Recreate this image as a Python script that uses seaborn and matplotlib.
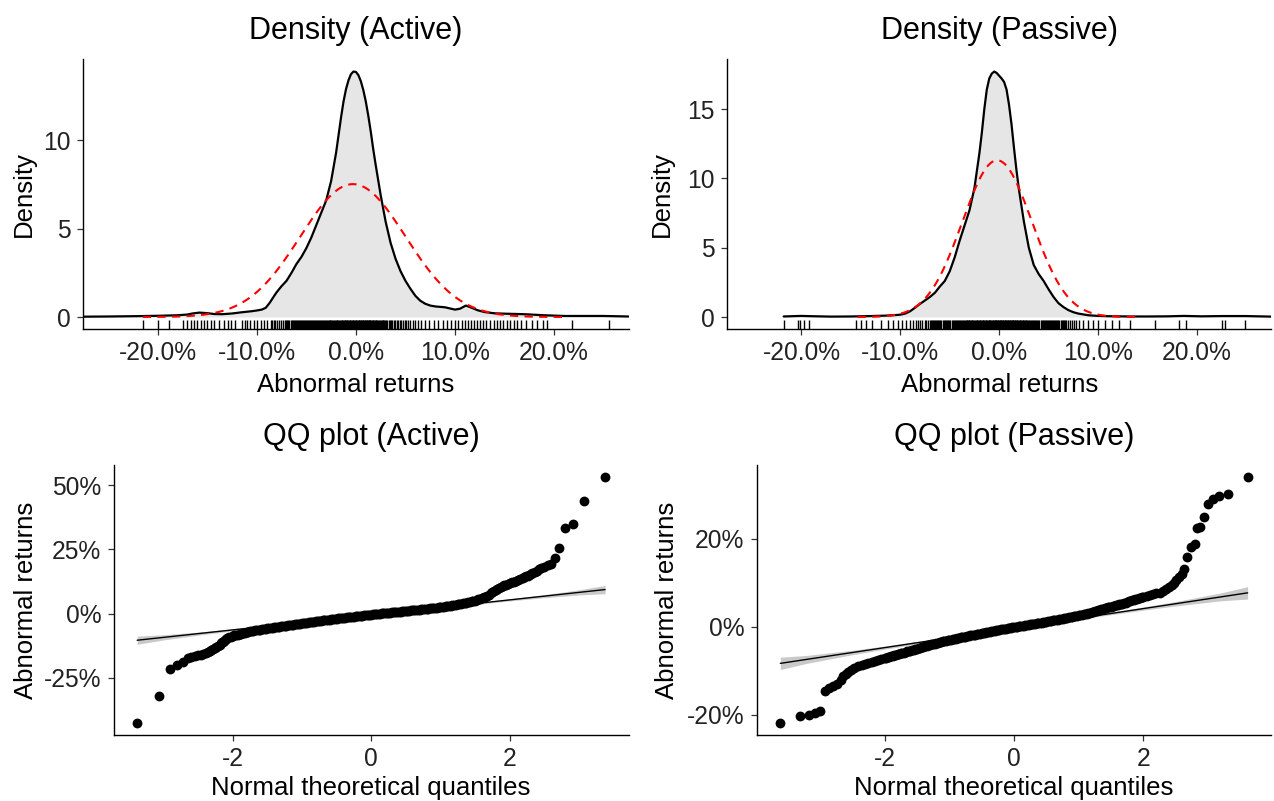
import numpy as np
import pandas as pd
import matplotlib
matplotlib.use("Agg")
import matplotlib.pyplot as plt
import seaborn as sns
from matplotlib.ticker import FuncFormatter

# DATA (returns in %)

# kernel density curves
dens_active_x = [-27.5, -25, -22, -20, -18, -17, -16.5, -15.8, -15, -14.3, -13.5, -12.5, -11.5, -10.5,
                 -10, -9.5, -9.1, -8.7, -8.3, -8, -7.5, -7, -6.5, -6, -5.5, -5, -4.5, -4, -3.5, -3,
                 -2.5, -2, -1.75, -1.5, -1.25, -1, -0.75, -0.5, -0.25, 0, 0.25, 0.5, 0.75, 1, 1.25,
                 1.5, 1.75, 2, 2.5, 3, 3.5, 4, 4.5, 5, 5.5, 6, 6.5, 7, 7.5, 8, 9, 10, 10.5, 11.1,
                 11.7, 12.3, 13, 14, 15, 17, 19, 21, 23, 25, 27.5]
dens_active_y = [0.02, 0.03, 0.05, 0.07, 0.1, 0.14, 0.2, 0.25, 0.22, 0.17, 0.16, 0.2, 0.27, 0.33,
                 0.37, 0.42, 0.52, 0.8, 1.15, 1.4, 1.75, 2.05, 2.5, 3.0, 3.4, 3.9, 4.5, 5.2, 5.9, 6.6,
                 7.7, 9.3, 10.3, 11.3, 12.2, 12.9, 13.4, 13.75, 13.9, 13.88, 13.7, 13.35, 12.85, 12.2, 11.4,
                 10.5, 9.5, 8.6, 6.9, 5.4, 4.2, 3.3, 2.6, 2.05, 1.6, 1.2, 0.92, 0.75, 0.65, 0.6, 0.55, 0.42, 0.47, 0.65,
                 0.52, 0.38, 0.28, 0.21, 0.19, 0.16, 0.1, 0.06, 0.06, 0.06, 0.03]

dens_passive_x = [-21.8, -20.5, -20, -19, -17, -15, -13, -11.5, -10.5, -10, -9.5, -9, -8.5, -8, -7.5,
                  -7, -6.5, -6, -5.5, -5, -4.5, -4, -3.5, -3, -2.5, -2, -1.75, -1.5, -1.25, -1, -0.75,
                  -0.5, -0.25, 0, 0.25, 0.5, 0.75, 1, 1.25, 1.5, 1.75, 2, 2.5, 3, 3.5, 4, 4.5, 5, 5.5,
                  6, 6.5, 7, 7.5, 8, 9, 10, 11, 12, 13.5, 15, 17, 18.7, 20.5, 22.5, 24.9, 27.5]
dens_passive_y = [0.04, 0.07, 0.08, 0.06, 0.03, 0.04, 0.07, 0.1, 0.14, 0.17, 0.25, 0.42, 0.68, 0.95, 1.2,
                  1.45, 1.75, 2.2, 2.6, 3.3, 4.3, 5.5, 6.6, 7.7, 9.3, 11.8, 13.3, 15.0, 16.4, 17.2, 17.55,
                  17.7, 17.6, 17.4, 17.2, 16.95, 16.4, 15.3, 13.9, 12.2, 10.6, 9.2, 6.9, 5.0, 3.75, 3.1, 2.6, 2.0, 1.45,
                  1.0, 0.72, 0.5, 0.35, 0.25, 0.13, 0.08, 0.06, 0.05, 0.04, 0.04, 0.05, 0.08, 0.05, 0.07, 0.07, 0.03]

# fitted normal (mean, sd) for the dashed curves
norm_active = (-0.3, 5.3)
norm_passive = (-0.2, 3.53)

# theoretical quantiles used for the body of both QQ plots
qq_body_theo = [-2.000, -1.975, -1.950, -1.925, -1.900, -1.875, -1.850, -1.825, -1.800, -1.775,
                -1.750, -1.725, -1.700, -1.675, -1.650, -1.625, -1.600, -1.575, -1.550, -1.525,
                -1.500, -1.475, -1.450, -1.425, -1.400, -1.375, -1.350, -1.325, -1.300, -1.275,
                -1.250, -1.225, -1.200, -1.175, -1.150, -1.125, -1.100, -1.075, -1.050, -1.025,
                -1.000, -0.975, -0.950, -0.925, -0.900, -0.875, -0.850, -0.825, -0.800, -0.775,
                -0.750, -0.725, -0.700, -0.675, -0.650, -0.625, -0.600, -0.575, -0.550, -0.525,
                -0.500, -0.475, -0.450, -0.425, -0.400, -0.375, -0.350, -0.325, -0.300, -0.275,
                -0.250, -0.225, -0.200, -0.175, -0.150, -0.125, -0.100, -0.075, -0.050, -0.025,
                0.000, 0.025, 0.050, 0.075, 0.100, 0.125, 0.150, 0.175, 0.200, 0.225,
                0.250, 0.275, 0.300, 0.325, 0.350, 0.375, 0.400, 0.425, 0.450, 0.475,
                0.500, 0.525, 0.550, 0.575, 0.600, 0.625, 0.650, 0.675, 0.700, 0.725,
                0.750, 0.775, 0.800, 0.825, 0.850, 0.875, 0.900, 0.925, 0.950, 0.975,
                1.000, 1.025, 1.050, 1.075, 1.100, 1.125, 1.150, 1.175, 1.200, 1.225,
                1.250, 1.275, 1.300, 1.325, 1.350, 1.375, 1.400, 1.425, 1.450, 1.475,
                1.500, 1.525, 1.550, 1.575, 1.600, 1.625, 1.650, 1.675, 1.700, 1.725,
                1.750, 1.775, 1.800, 1.825, 1.850, 1.875, 1.900, 1.925, 1.950, 1.975, 2.000]

# Active QQ: lower tail, body, upper tail
qq_active_low_theo = [-3.38, -3.07, -2.91, -2.80, -2.72, -2.65, -2.60, -2.55, -2.50, -2.46, -2.43, -2.39,
                      -2.36, -2.33, -2.31, -2.28, -2.26, -2.24, -2.21, -2.19, -2.17, -2.15, -2.14, -2.12,
                      -2.11, -2.09, -2.08, -2.06, -2.03]
qq_active_low_ret = [-42.5, -32.0, -21.5, -20.0, -18.9, -17.4, -17.0, -16.6, -16.3, -16.0, -15.6, -15.3,
                     -15.0, -14.6, -14.3, -13.8, -13.3, -12.9, -12.6, -12.2, -11.5, -11.2, -11.0, -10.7,
                     -10.3, -10.0, -9.6, -9.3, -9.0]
qq_active_body_ret = [-8.6, -8.45, -8.3, -8.15, -8.0, -7.8, -7.6, -7.4, -7.2, -7.07,
                      -6.95, -6.82, -6.7, -6.57, -6.45, -6.32, -6.2, -6.1, -6.0, -5.9,
                      -5.8, -5.7, -5.6, -5.5, -5.4, -5.3, -5.2, -5.1, -5.0, -4.9,
                      -4.8, -4.7, -4.6, -4.5, -4.4, -4.3, -4.2, -4.1, -4.0, -3.9,
                      -3.8, -3.7, -3.6, -3.5, -3.4, -3.3, -3.2, -3.1, -3.0, -2.9,
                      -2.8, -2.72, -2.65, -2.57, -2.5, -2.4, -2.3, -2.2, -2.1, -2.02,
                      -1.95, -1.87, -1.8, -1.7, -1.6, -1.52, -1.45, -1.37, -1.3, -1.22,
                      -1.15, -1.07, -1.0, -0.92, -0.85, -0.77, -0.7, -0.62, -0.55, -0.47,
                      -0.4, -0.32, -0.25, -0.17, -0.1, -0.02, 0.05, 0.12, 0.2, 0.27,
                      0.35, 0.42, 0.5, 0.55, 0.6, 0.68, 0.75, 0.82, 0.9, 0.95,
                      1.0, 1.07, 1.15, 1.22, 1.3, 1.35, 1.4, 1.47, 1.55, 1.62,
                      1.7, 1.77, 1.85, 1.92, 2.0, 2.07, 2.15, 2.22, 2.3, 2.4,
                      2.5, 2.6, 2.7, 2.77, 2.85, 2.95, 3.05, 3.17, 3.3, 3.42,
                      3.55, 3.67, 3.8, 3.95, 4.1, 4.25, 4.4, 4.57, 4.75, 4.92,
                      5.1, 5.3, 5.5, 5.75, 6.0, 6.3, 6.6, 7.0, 7.4, 7.85,
                      8.3, 8.75, 9.2, 9.6, 10.0, 10.35, 10.7, 11.0, 11.3, 11.6, 11.9]
qq_active_high_theo = [2.03, 2.06, 2.09, 2.12, 2.15, 2.19, 2.21, 2.24, 2.26, 2.28, 2.31, 2.33, 2.36, 2.39,
                       2.43, 2.46, 2.50, 2.55, 2.60, 2.65, 2.72, 2.80, 2.91, 3.07, 3.38]
qq_active_high_ret = [12.2, 12.5, 12.8, 13.1, 13.5, 13.9, 14.2, 14.5, 14.8, 15.2, 15.5, 15.9, 16.3, 16.7,
                      17.2, 17.8, 18.3, 18.9, 19.3, 21.8, 25.5, 33.3, 35.0, 44.0, 53.1]

# Passive QQ: lower tail, body, upper tail
qq_passive_low_theo = [-3.61, -3.31, -3.17, -3.07, -2.99, -2.92, -2.86, -2.80, -2.74, -2.68, -2.64, -2.60,
                       -2.56, -2.52, -2.47, -2.41, -2.35, -2.30, -2.25, -2.20, -2.15, -2.10, -2.05]
qq_passive_low_ret = [-21.8, -20.3, -20.1, -19.7, -19.2, -14.5, -14.0, -13.5, -12.9, -12.0, -11.2, -10.7,
                      -10.2, -9.8, -9.4, -9.0, -8.7, -8.45, -8.2, -8.0, -7.8, -7.55, -7.35]
qq_passive_body_ret = [-7.15, -7.02, -6.9, -6.8, -6.7, -6.57, -6.45, -6.35, -6.25, -6.15,
                       -6.05, -5.95, -5.85, -5.72, -5.6, -5.5, -5.4, -5.3, -5.2, -5.07,
                       -4.95, -4.82, -4.7, -4.6, -4.5, -4.4, -4.3, -4.2, -4.1, -4.0,
                       -3.9, -3.8, -3.7, -3.6, -3.5, -3.4, -3.3, -3.22, -3.15, -3.07,
                       -3.0, -2.92, -2.85, -2.77, -2.7, -2.6, -2.5, -2.42, -2.35, -2.27,
                       -2.2, -2.12, -2.05, -1.97, -1.9, -1.82, -1.75, -1.67, -1.6, -1.52,
                       -1.45, -1.37, -1.3, -1.22, -1.15, -1.07, -1.0, -0.95, -0.9, -0.82,
                       -0.75, -0.67, -0.6, -0.52, -0.45, -0.4, -0.35, -0.27, -0.2, -0.15,
                       -0.1, -0.02, 0.05, 0.1, 0.15, 0.22, 0.3, 0.35, 0.4, 0.47,
                       0.55, 0.6, 0.65, 0.72, 0.8, 0.85, 0.9, 0.97, 1.05, 1.12,
                       1.2, 1.25, 1.3, 1.37, 1.45, 1.52, 1.6, 1.65, 1.7, 1.77,
                       1.85, 1.92, 2.0, 2.07, 2.15, 2.22, 2.3, 2.37, 2.45, 2.52,
                       2.6, 2.67, 2.75, 2.82, 2.9, 3.0, 3.1, 3.2, 3.3, 3.4,
                       3.5, 3.62, 3.75, 3.85, 3.95, 4.07, 4.2, 4.3, 4.4, 4.5,
                       4.6, 4.7, 4.8, 4.9, 5.0, 5.1, 5.2, 5.3, 5.4, 5.52,
                       5.65, 5.77, 5.9, 6.0, 6.1, 6.22, 6.35, 6.47, 6.6, 6.7, 6.8]
qq_passive_high_theo = [2.05, 2.10, 2.15, 2.20, 2.25, 2.30, 2.35, 2.40, 2.44, 2.47, 2.51, 2.55, 2.59, 2.62,
                        2.67, 2.73, 2.79, 2.83, 2.88, 2.93, 2.99, 3.07, 3.17, 3.31, 3.61]
qq_passive_high_ret = [7.0, 7.2, 7.4, 7.6, 7.8, 8.1, 8.5, 9.0, 9.5, 10.0, 10.7, 11.4, 12.1, 13.2,
                       15.8, 18.2, 18.9, 22.5, 22.8, 24.9, 27.9, 29.1, 29.8, 30.2, 34.0]

# reference lines (intercept, slope) and confidence band half-widths
qq_line_active = (-0.5, 2.92)
qq_line_passive = (-0.29, 2.22)
band_active_x = [-3.38, -3.0, -2.5, -2.0, -1.0, 0.0, 1.0, 2.0, 2.5, 3.0, 3.38]
band_active_half = [1.6, 1.0, 0.6, 0.4, 0.25, 0.2, 0.25, 0.4, 0.6, 1.0, 1.6]
band_passive_x = [-3.61, -3.2, -2.5, -2.0, -1.0, 0.0, 1.0, 2.0, 2.5, 3.2, 3.61]
band_passive_half = [1.4, 0.9, 0.5, 0.35, 0.2, 0.15, 0.2, 0.35, 0.5, 0.9, 1.4]

qq_active = pd.DataFrame({
    "theo": qq_active_low_theo + qq_body_theo + qq_active_high_theo,
    "ret": qq_active_low_ret + qq_active_body_ret + qq_active_high_ret,
})
qq_passive = pd.DataFrame({
    "theo": qq_passive_low_theo + qq_body_theo + qq_passive_high_theo,
    "ret": qq_passive_low_ret + qq_passive_body_ret + qq_passive_high_ret,
})

sns.set_theme(style="ticks")
plt.rcParams['font.family'] = ['Liberation Sans', 'DejaVu Sans']

TITLE_FS = 22
LABEL_FS = 18.5
TICK_FS = 17.7
TICK_COLOR = '#222222'

W, H = 1274, 801
fig = plt.figure(figsize=(W / 100, H / 100), dpi=100)


def make_ax(left, top, right, bottom):
    return fig.add_axes([left / W, 1 - bottom / H, (right - left) / W, (bottom - top) / H])


def style_ax(ax, title, xlabel, ylabel, ylab_x, xlab_y):
    sns.despine(ax=ax)
    for s in ['left', 'bottom']:
        ax.spines[s].set_linewidth(1.0)
        ax.spines[s].set_color('black')
    ax.tick_params(axis='both', length=4, width=0.9, color='#333333',
                   labelsize=TICK_FS, labelcolor=TICK_COLOR)
    ax.tick_params(axis='x', pad=4.5)
    ax.tick_params(axis='y', pad=5)
    ax.set_title(title, fontsize=TITLE_FS, pad=14.4, color='black')
    ax.set_xlabel(xlabel, fontsize=LABEL_FS, color='black')
    ax.set_ylabel(ylabel, fontsize=LABEL_FS, color='black')
    ax.xaxis.set_label_coords(0.5, xlab_y)
    ax.yaxis.set_label_coords(ylab_x, 0.5)
    ax.grid(False)


def expand(vals):
    lo, hi = min(vals), max(vals)
    r = hi - lo
    return lo - 0.05 * r, hi + 0.05 * r


def density_panel(ax, dx, dy, sample, norm, title, yticks, ylab_x):
    ax.fill_between(dx, 0, dy, color='#E6E6E6', lw=0, zorder=1)
    sns.lineplot(x=dx, y=dy, ax=ax, color='black', lw=1.6, estimator=None, sort=False, zorder=3)
    m, s = norm
    xs = np.linspace(m - 4 * s, m + 4 * s, 300)
    ys = np.exp(-0.5 * ((xs - m) / s) ** 2) / (s / 100 * np.sqrt(2 * np.pi))
    sns.lineplot(x=xs, y=ys, ax=ax, color='red', lw=1.5, linestyle=(0, (4, 3)),
                 estimator=None, sort=False, zorder=4)
    sns.rugplot(x=sample, ax=ax, height=0.033, color='black', lw=1.3, expand_margins=False, zorder=2)
    ax.set_xlim(-27.5, 27.5)
    top = max(dy)
    ax.set_ylim(-0.05 * top, 1.05 * top)
    ax.set_xticks([-20, -10, 0, 10, 20])
    ax.xaxis.set_major_formatter(FuncFormatter(lambda v, _: f"{v:.1f}%"))
    ax.set_yticks(yticks)
    ax.yaxis.set_major_formatter(FuncFormatter(lambda v, _: f"{v:g}"))
    style_ax(ax, title, "Abnormal returns", "Density", ylab_x, -0.16)


def qq_panel(ax, df, line, bx, bh, title, yticks, ylab_x):
    a, b = line
    bx = np.array(bx)
    centre = a + b * bx
    ax.fill_between(bx, centre - np.array(bh), centre + np.array(bh), color='#C9C9C9', lw=0, zorder=1)
    lx = np.array([df.theo.min(), df.theo.max()])
    sns.lineplot(x=lx, y=a + b * lx, ax=ax, color='black', lw=1.0, estimator=None, zorder=2)
    sns.scatterplot(data=df, x="theo", y="ret", ax=ax, color='black', s=50, linewidth=0, zorder=3)
    ax.set_xlim(*expand(df.theo))
    ax.set_ylim(*expand(df.ret))
    ax.set_xticks([-2, 0, 2])
    ax.xaxis.set_major_formatter(FuncFormatter(lambda v, _: f"{v:g}"))
    ax.set_yticks(yticks)
    ax.yaxis.set_major_formatter(FuncFormatter(lambda v, _: f"{v:.0f}%"))
    style_ax(ax, title, "Normal theoretical quantiles", "Abnormal returns", ylab_x, -0.152)


ax1 = make_ax(83.3, 59.3, 628.5, 329.3)
ax2 = make_ax(727.3, 59.3, 1271, 329.3)
ax3 = make_ax(113.8, 465, 628.5, 735)
ax4 = make_ax(757, 465, 1271, 735)

density_panel(ax1, dens_active_x, dens_active_y, qq_active.ret, norm_active,
              "Density (Active)", [0, 5, 10], -0.087)
density_panel(ax2, dens_passive_x, dens_passive_y, qq_passive.ret, norm_passive,
              "Density (Passive)", [0, 5, 10, 15], -0.098)
qq_panel(ax3, qq_active, qq_line_active, band_active_x, band_active_half,
         "QQ plot (Active)", [-25, 0, 25, 50], -0.148)
qq_panel(ax4, qq_passive, qq_line_passive, band_passive_x, band_passive_half,
         "QQ plot (Passive)", [-20, 0, 20], -0.151)

fig.savefig("out.png", dpi=100)
